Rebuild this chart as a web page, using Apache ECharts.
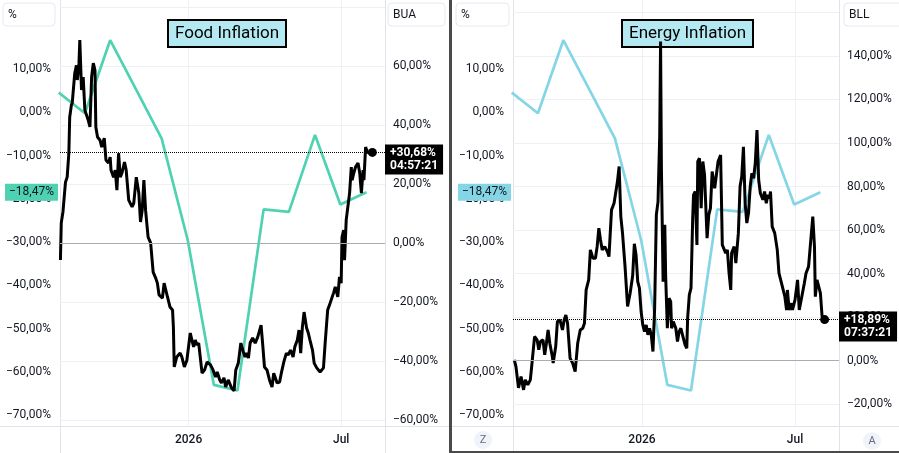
<!DOCTYPE html>
<html>
<head>
    <meta charset="utf-8">
    <script src="https://cdn.jsdelivr.net/npm/echarts@6.0.0/dist/echarts.min.js"></script>
    <style>
        html, body { margin: 0; padding: 0; background: #fff; }
    </style>
</head>
<body>
    <div id="main" style="width: 899px; height: 453px"></div>
    <script type="text/javascript">
        // panel texts
        var titles = ['Food Inflation', 'Energy Inflation'];
        var rightAxisNames = ['BUA', 'BLL'];
        var countdowns = ['04:57:21', '07:37:21'];
        var lineColors = ['#4fd2b2', '#84d6e6'];
        var monthNames = ['Jan', 'Feb', 'Mar', 'Apr', 'May', 'Jun', 'Jul', 'Aug', 'Sep', 'Oct', 'Nov', 'Dec'];

        // axis ticks
        var xLabelDates = ['2026-01-01', '2026-07-01'];
        var xRange = ['2025-08-01', '2026-08-22'];
        var leftTicks = [-70, -60, -50, -40, -30, -20, -10, 0, 10];
        var buaLabels = [-60, -40, -20, 0, 20, 40, 60];
        var buaLines = [-60, -40, -20, 0, 20, 40, 60, 80];
        var bllLabels = [-20, 0, 20, 40, 60, 80, 100, 120, 140];
        var bllLines = [-20, 0, 20, 40, 60, 80, 100, 120, 140, 160];

        // monthly inflation (left axis, same in both panels)
        var cpiDates = ['2025-07-31', '2025-08-31', '2025-09-30', '2025-10-31', '2025-11-30', '2025-12-31',
            '2026-01-31', '2026-02-28', '2026-03-31', '2026-04-30', '2026-05-31', '2026-06-30', '2026-07-31'];
        var cpiValues = [4.6, -0.2, 16.7, 5.2, -6.0, -29.5, -63.0, -64.3, -22.4, -23.0, -5.2, -21.3, -18.47];

        // BUA (right axis, left panel)
        var buaDates = ['2025-08-02', '2025-08-03', '2025-08-05', '2025-08-06', '2025-08-08', '2025-08-10', '2025-08-12', '2025-08-13',
            '2025-08-15', '2025-08-16', '2025-08-19', '2025-08-21', '2025-08-22', '2025-08-24', '2025-08-25', '2025-08-27',
            '2025-08-29', '2025-08-31', '2025-09-04', '2025-09-06', '2025-09-08', '2025-09-10', '2025-09-12', '2025-09-13',
            '2025-09-15', '2025-09-18', '2025-09-20', '2025-09-23', '2025-09-25', '2025-09-28', '2025-09-30', '2025-10-01',
            '2025-10-04', '2025-10-06', '2025-10-08', '2025-10-10', '2025-10-12', '2025-10-14', '2025-10-17', '2025-10-19',
            '2025-10-22', '2025-10-26', '2025-10-28', '2025-10-31', '2025-11-03', '2025-11-05', '2025-11-07', '2025-11-09',
            '2025-11-11', '2025-11-14', '2025-11-17', '2025-11-20', '2025-11-23', '2025-11-25', '2025-11-27', '2025-12-01',
            '2025-12-03', '2025-12-07', '2025-12-10', '2025-12-13', '2025-12-14', '2025-12-15', '2025-12-18', '2025-12-22',
            '2025-12-24', '2025-12-27', '2025-12-30', '2026-01-03', '2026-01-05', '2026-01-07', '2026-01-09', '2026-01-11',
            '2026-01-13', '2026-01-15', '2026-01-17', '2026-01-20', '2026-01-23', '2026-01-27', '2026-01-30', '2026-02-02',
            '2026-02-04', '2026-02-07', '2026-02-09', '2026-02-12', '2026-02-14', '2026-02-17', '2026-02-21', '2026-02-24',
            '2026-02-26', '2026-03-01', '2026-03-04', '2026-03-07', '2026-03-09', '2026-03-11', '2026-03-13', '2026-03-15',
            '2026-03-18', '2026-03-21', '2026-03-24', '2026-03-26', '2026-03-28', '2026-03-30', '2026-04-01', '2026-04-04',
            '2026-04-07', '2026-04-10', '2026-04-12', '2026-04-14', '2026-04-16', '2026-04-19', '2026-04-21', '2026-04-24',
            '2026-04-27', '2026-04-29', '2026-05-02', '2026-05-05', '2026-05-07', '2026-05-10', '2026-05-12', '2026-05-14',
            '2026-05-16', '2026-05-18', '2026-05-21', '2026-05-23', '2026-05-25', '2026-05-28', '2026-05-30', '2026-06-02',
            '2026-06-06', '2026-06-10', '2026-06-12', '2026-06-15', '2026-06-18', '2026-06-22', '2026-06-24', '2026-06-27',
            '2026-06-29', '2026-07-01', '2026-07-02', '2026-07-04', '2026-07-05', '2026-07-07', '2026-07-08', '2026-07-11',
            '2026-07-13', '2026-07-14', '2026-07-16', '2026-07-18', '2026-07-21', '2026-07-23', '2026-07-25', '2026-07-27',
            '2026-07-28', '2026-07-30', '2026-08-01', '2026-08-04', '2026-08-07'];
        var buaValues = [-5.8, 6.8, 10.5, 10.1, 20.6, 22.3, 30.4, 42.6,
            46.7, 47.4, 57.5, 60.2, 55.2, 60.9, 68.7, 51.8,
            56.2, 45.0, 41.6, 39.3, 56.2, 60.9, 58.5, 39.3,
            35.9, 34.8, 32.5, 35.5, 28.1, 27.1, 29.1, 24.7,
            22.3, 24.7, 17.9, 30.4, 22.3, 23.7, 27.4, 24.7,
            14.5, 12.2, 13.5, 22.3, 16.9, 7.1, 11.1, 21.3,
            11.1, 2.0, 0.0, -9.9, -11.9, -13.6, -17.6, -18.7,
            -13.6, -18.3, -21.7, -22.7, -28.5, -42.0, -38.6, -37.3,
            -38.6, -42.0, -39.7, -30.5, -32.9, -35.2, -32.9, -34.6,
            -33.9, -33.9, -44.1, -43.0, -40.3, -41.3, -43.0, -45.4,
            -43.7, -46.4, -47.4, -45.7, -48.8, -46.4, -49.1, -50.1,
            -43.0, -40.7, -33.9, -36.9, -38.6, -37.3, -39.0, -33.9,
            -32.2, -33.9, -31.9, -32.2, -27.8, -34.6, -42.0, -43.0,
            -46.4, -48.8, -44.1, -45.7, -47.4, -47.1, -44.1, -40.3,
            -37.3, -38.0, -36.3, -38.6, -35.2, -32.9, -29.5, -37.3,
            -28.5, -23.4, -28.8, -30.5, -32.9, -36.3, -40.7, -42.3,
            -43.7, -42.3, -33.9, -22.7, -20.3, -16.9, -14.9, -18.3,
            -11.5, -13.6, 2.0, 4.4, -5.8, 7.8, 10.1, 16.9,
            25.7, 21.3, 23.7, 25.7, 27.1, 23.7, 16.9, 24.7,
            21.3, 32.5, 30.8, 30.4, 30.68];

        // BLL (right axis, right panel)
        var bllDates = ['2025-08-03', '2025-08-05', '2025-08-06', '2025-08-08', '2025-08-11', '2025-08-14', '2025-08-16', '2025-08-19',
            '2025-08-22', '2025-08-24', '2025-08-27', '2025-08-30', '2025-09-01', '2025-09-03', '2025-09-06', '2025-09-08',
            '2025-09-10', '2025-09-12', '2025-09-14', '2025-09-17', '2025-09-18', '2025-09-21', '2025-09-23', '2025-09-26',
            '2025-09-29', '2025-10-01', '2025-10-03', '2025-10-05', '2025-10-08', '2025-10-11', '2025-10-14', '2025-10-17',
            '2025-10-20', '2025-10-23', '2025-10-25', '2025-10-27', '2025-10-30', '2025-11-01', '2025-11-04', '2025-11-07',
            '2025-11-09', '2025-11-11', '2025-11-13', '2025-11-15', '2025-11-18', '2025-11-21', '2025-11-23', '2025-11-26',
            '2025-11-29', '2025-12-01', '2025-12-03', '2025-12-05', '2025-12-07', '2025-12-09', '2025-12-12', '2025-12-15',
            '2025-12-18', '2025-12-21', '2025-12-23', '2025-12-25', '2025-12-27', '2025-12-29', '2025-12-31', '2026-01-02',
            '2026-01-04', '2026-01-06', '2026-01-08', '2026-01-10', '2026-01-12', '2026-01-14', '2026-01-16', '2026-01-18',
            '2026-01-20', '2026-01-22', '2026-01-23', '2026-01-24', '2026-01-26', '2026-01-28', '2026-01-29', '2026-01-31',
            '2026-02-02', '2026-02-04', '2026-02-05', '2026-02-07', '2026-02-10', '2026-02-12', '2026-02-14', '2026-02-16',
            '2026-02-19', '2026-02-21', '2026-02-23', '2026-02-24', '2026-02-26', '2026-02-28', '2026-03-02', '2026-03-03',
            '2026-03-05', '2026-03-07', '2026-03-08', '2026-03-10', '2026-03-12', '2026-03-14', '2026-03-16', '2026-03-19',
            '2026-03-21', '2026-03-23', '2026-03-25', '2026-03-28', '2026-03-30', '2026-04-01', '2026-04-04', '2026-04-06',
            '2026-04-08', '2026-04-10', '2026-04-12', '2026-04-14', '2026-04-16', '2026-04-17', '2026-04-20', '2026-04-22',
            '2026-04-25', '2026-04-27', '2026-04-29', '2026-05-01', '2026-05-03', '2026-05-05', '2026-05-07', '2026-05-09',
            '2026-05-11', '2026-05-13', '2026-05-15', '2026-05-17', '2026-05-19', '2026-05-21', '2026-05-24', '2026-05-26',
            '2026-05-28', '2026-05-30', '2026-06-01', '2026-06-02', '2026-06-04', '2026-06-07', '2026-06-10', '2026-06-12',
            '2026-06-15', '2026-06-17', '2026-06-19', '2026-06-21', '2026-06-22', '2026-06-24', '2026-06-27', '2026-06-28',
            '2026-07-01', '2026-07-04', '2026-07-06', '2026-07-09', '2026-07-12', '2026-07-14', '2026-07-17', '2026-07-19',
            '2026-07-22', '2026-07-24', '2026-07-25', '2026-07-27', '2026-07-29', '2026-07-31', '2026-08-02', '2026-08-05'];
        var bllValues = [0.4, -2.7, -3.3, -12.5, -7.3, -13.4, -8.8, -11.1,
            -8.8, -1.0, 11.1, 9.6, 5.0, 8.8, 9.6, 2.7,
            8.0, 14.1, 8.0, 1.9, -1.1, 6.5, 18.0, 18.7,
            14.1, 18.7, 21.0, 17.2, 1.1, -1.1, -5.0, 8.0,
            14.1, 14.9, 17.2, 32.5, 37.1, 50.9, 47.1, 47.1,
            52.4, 60.9, 55.5, 50.9, 52.4, 50.1, 47.8, 69.3,
            72.3, 73.1, 82.3, 89.2, 66.2, 58.6, 43.2, 24.9,
            31.0, 39.0, 53.7, 48.6, 36.3, 33.3, 22.6, 16.4,
            13.4, 16.4, 11.9, 14.9, 11.9, 4.2, 24.1, 67.0,
            73.1, 103.7, 146.6, 88.4, 36.3, 62.4, 39.4, 14.9,
            28.7, 27.1, 14.9, 18.0, 14.9, 8.8, 13.4, 14.9,
            10.3, 7.3, 5.7, 19.5, 30.2, 33.3, 65.5, 76.2,
            77.7, 53.2, 91.5, 93.0, 70.1, 91.5, 85.3, 56.3,
            67.0, 70.1, 86.9, 79.2, 85.3, 91.5, 94.5, 53.2,
            52.4, 49.4, 50.9, 40.2, 32.5, 49.4, 52.4, 44.8,
            58.6, 80.0, 84.6, 98.3, 72.3, 63.2, 67.8, 80.0,
            86.1, 83.8, 90.7, 106.0, 83.1, 76.9, 73.9, 77.7,
            72.3, 76.2, 74.6, 77.7, 61.6, 58.6, 50.9, 40.2,
            35.6, 36.3, 29.4, 23.3, 32.5, 23.3, 26.4, 23.3,
            27.9, 37.1, 23.3, 29.4, 35.6, 40.2, 43.2, 52.4,
            66.2, 52.4, 29.4, 37.1, 36.3, 31.0, 20.3, 18.89];

        // 'YYYY-MM-DD' -> local timestamp
        function ts(s) {
            var p = s.split('-');
            return new Date(+p[0], +p[1] - 1, +p[2]).getTime();
        }

        function pct(v, plus) {
            var s = Math.abs(v).toFixed(2).replace('.', ',');
            return (v < 0 ? '\u2212' : (plus ? '+' : '')) + s + '%';
        }

        function zip(dates, values) {
            var out = [];
            for (var i = 0; i < dates.length; i++) out.push([ts(dates[i]), values[i]]);
            return out;
        }

        var font = 'Roboto';
        var textColor = '#131722';
        var xTicks = xLabelDates.map(ts);
        var panels = [
            { left: 60, width: 325, dates: buaDates, values: buaValues, rMin: -62.0, rMax: 82.3, rLabels: buaLabels, rLines: buaLines },
            { left: 513, width: 326, dates: bllDates, values: bllValues, rMin: -30.0, rMax: 165.7, rLabels: bllLabels, rLines: bllLines }
        ];

        var grids = [], xAxes = [], yAxes = [], series = [], titleList = [];
        panels.forEach(function (p, i) {
            grids.push({ left: p.left, top: 0, width: p.width, height: 426 });
            xAxes.push({
                type: 'value', gridIndex: i,
                min: ts(xRange[0]) + 43200000, max: ts(xRange[1]),
                axisLine: { show: false },
                axisTick: { show: false, customValues: xTicks },
                axisLabel: {
                    customValues: xTicks, margin: 8, fontSize: 12, fontFamily: font, color: textColor, fontWeight: 500,
                    formatter: function (value) {
                        var d = new Date(value);
                        return d.getMonth() === 0 ? String(d.getFullYear()) : monthNames[d.getMonth()];
                    }
                },
                splitLine: { show: true, lineStyle: { color: '#eef0f5', width: 1 } }
            });
            yAxes.push({
                type: 'value', gridIndex: i, position: 'left', min: -72.5, max: 26.0,
                axisLine: { show: false },
                axisTick: { show: false, customValues: leftTicks },
                splitLine: { show: false },
                axisLabel: { customValues: leftTicks, margin: 9, fontSize: 12, fontFamily: font, color: textColor,
                    formatter: function (v) { return pct(v); } }
            });
            yAxes.push({
                type: 'value', gridIndex: i, position: 'right', min: p.rMin, max: p.rMax,
                axisLine: { show: false },
                axisTick: { show: false, customValues: p.rLines },
                splitLine: { show: true, lineStyle: { color: '#eef0f5', width: 1 } },
                axisLabel: { customValues: p.rLabels, margin: 8, fontSize: 12, fontFamily: font, color: textColor,
                    formatter: function (v) { return pct(v); } }
            });

            var cpiLast = cpiValues[cpiValues.length - 1];
            series.push({
                type: 'line', xAxisIndex: i, yAxisIndex: 2 * i,
                data: zip(cpiDates, cpiValues),
                symbol: 'none', color: lineColors[i],
                lineStyle: { color: lineColors[i], width: 2.7 },
                z: 2,
                markLine: {
                    silent: true, symbol: ['none', 'none'],
                    data: [{
                        yAxis: cpiLast,
                        lineStyle: { color: 'transparent', width: 0 },
                        label: {
                            show: true, position: 'start', distance: 2,
                            formatter: pct(cpiLast),
                            backgroundColor: lineColors[i], color: textColor,
                            padding: [2, 4], fontSize: 12, lineHeight: 13, fontFamily: font
                        }
                    }]
                }
            });

            var last = p.values[p.values.length - 1];
            var lastDate = ts(p.dates[p.dates.length - 1]);
            series.push({
                type: 'line', xAxisIndex: i, yAxisIndex: 2 * i + 1,
                data: zip(p.dates, p.values),
                symbol: 'none', color: '#000',
                lineStyle: { color: '#000', width: 3 },
                z: 3,
                markLine: {
                    silent: true, symbol: ['none', 'none'],
                    data: [
                        { yAxis: 0, lineStyle: { color: '#a9acb5', type: 'solid', width: 1 }, label: { show: false } },
                        {
                            yAxis: last,
                            lineStyle: { color: '#000', type: 'dotted', width: 1 },
                            label: {
                                show: true, position: 'end', distance: 0, offset: [0, 7],
                                formatter: pct(last, true) + '\n' + countdowns[i],
                                backgroundColor: '#000', color: '#fff',
                                padding: [2, 5], fontSize: 12, lineHeight: 13, fontWeight: 'bold', fontFamily: font
                            }
                        }
                    ]
                },
                markPoint: {
                    silent: true, symbol: 'circle', symbolSize: 9,
                    itemStyle: { color: '#000' }, label: { show: false },
                    data: [{ coord: [lastDate, last] }]
                }
            });

            titleList.push({
                text: titles[i], left: [168, 622][i], top: 20, z: 1,
                backgroundColor: '#b5e9f2', borderColor: '#000', borderWidth: 2,
                padding: [4, 7],
                textStyle: { fontSize: 17, lineHeight: 19, fontWeight: 'normal', color: '#000', fontFamily: font }
            });
        });

        function box(x, w, text) {
            return {
                type: 'group', x: x, y: 3, children: [
                    { type: 'rect', shape: { x: 0, y: 0, width: w, height: 23, r: 4 },
                      style: { fill: '#fff', stroke: '#e6e8ee', lineWidth: 1 } },
                    { type: 'text', x: 5, y: 12, style: { text: text, fill: textColor, font: '12px Roboto', verticalAlign: 'middle' } }
                ]
            };
        }
        function vline(x, y1, y2, color, w) {
            return { type: 'line', shape: { x1: x, y1: y1, x2: x, y2: y2 }, style: { stroke: color, lineWidth: w }, silent: true };
        }
        function hline(y, x1, x2, color, w) {
            return { type: 'line', shape: { x1: x1, y1: y, x2: x2, y2: y }, style: { stroke: color, lineWidth: w }, silent: true };
        }
        function badge(cx, cy, text) {
            return {
                type: 'group', x: cx, y: cy, children: [
                    { type: 'circle', shape: { cx: 0, cy: 0, r: 9 }, style: { fill: '#f0f3fa' } },
                    { type: 'text', x: 0, y: 0, style: { text: text, fill: '#6a6d78', font: '11px Roboto', align: 'center', verticalAlign: 'middle' } }
                ]
            };
        }

        var sep = '#e0e3eb';
        var graphics = [
            vline(60.5, 0, 453, sep, 1), vline(385.5, 0, 453, sep, 1), hline(426.5, 0, 449, sep, 1),
            vline(513.5, 0, 451, sep, 1), vline(839.5, 0, 451, sep, 1), hline(426.5, 452, 899, sep, 1),
            { type: 'rect', shape: { x: 449, y: 0, width: 3, height: 453 }, style: { fill: '#4a4a4a' }, silent: true },
            { type: 'rect', shape: { x: 449, y: 451, width: 450, height: 2 }, style: { fill: '#4a4a4a' }, silent: true },
            box(3, 52, '%'), box(388, 57, rightAxisNames[0]),
            box(456, 53, '%'), box(844, 60, rightAxisNames[1]),
            badge(483, 440, 'Z'), badge(872, 441, 'A')
        ];

        var myChart = echarts.init(document.getElementById('main'));
        myChart.setOption({
            animation: false,
            backgroundColor: '#fff',
            title: titleList,
            grid: grids,
            xAxis: xAxes,
            yAxis: yAxes,
            series: series,
            graphic: graphics
        });
    </script>
</body>
</html>
